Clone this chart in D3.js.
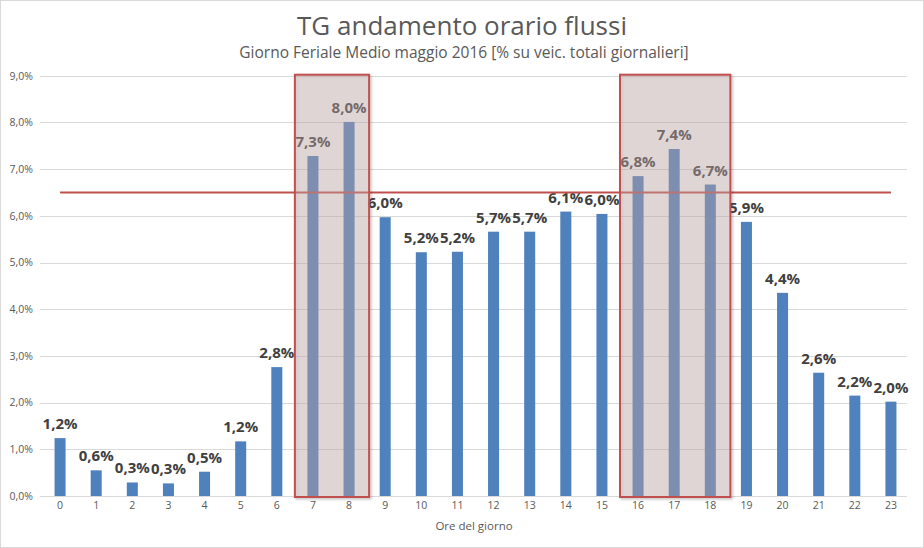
<!DOCTYPE html>
<html><head><meta charset="utf-8">
<script src="https://cdn.jsdelivr.net/npm/d3@7/dist/d3.min.js"></script>
<style>body{margin:0;background:#fff;}svg{display:block;font-family:"Open Sans",sans-serif;}</style>
</head><body>
<svg id="chart" width="924" height="548"></svg>
<script>
const hours = ["0","1","2","3","4","5","6","7","8","9","10","11","12","13","14","15","16","17","18","19","20","21","22","23"];
const values = [1.24,0.55,0.29,0.27,0.52,1.17,2.76,7.28,8.01,5.97,5.22,5.23,5.66,5.66,6.09,6.04,6.85,7.43,6.67,5.87,4.35,2.64,2.15,2.02];
const labels = ["1,2%","0,6%","0,3%","0,3%","0,5%","1,2%","2,8%","7,3%","8,0%","6,0%","5,2%","5,2%","5,7%","5,7%","6,1%","6,0%","6,8%","7,4%","6,7%","5,9%","4,4%","2,6%","2,2%","2,0%"];
const yTicks = [0,1,2,3,4,5,6,7,8,9];
const yTickLabels = ["0,0%","1,0%","2,0%","3,0%","4,0%","5,0%","6,0%","7,0%","8,0%","9,0%"];
const refValue = 6.5;
const highlights = [["7","8"],["16","18"]];
const title = "TG andamento orario flussi";
const subtitle = "Giorno Feriale Medio maggio 2016 [% su veic. totali giornalieri]";
const xTitle = "Ore del giorno";

(function(){
const svg = d3.select("#chart");
const W = 924, H = 548;
const mLeft = 42, mRight = 909, mTop = 75.7, mBottom = 496;

const defs = svg.append("defs");
const f = defs.append("filter").attr("id","sh").attr("x","-10%").attr("y","-10%").attr("width","130%").attr("height","130%");
f.append("feDropShadow").attr("dx",1.5).attr("dy",1.5).attr("stdDeviation",1.2).attr("flood-color","#000").attr("flood-opacity",0.25);

svg.append("rect").attr("x",0.5).attr("y",0.5).attr("width",W-1).attr("height",H-1)
  .attr("fill","#fff").attr("stroke","#d9d9d9");

const x = d3.scaleBand().domain(hours).range([mLeft,mRight]).paddingInner(0.695).paddingOuter(0.3475);
const y = d3.scaleLinear().domain([0,9]).range([mBottom,mTop]);

svg.append("g").selectAll("line").data(yTicks).join("line")
  .attr("x1",40).attr("x2",mRight-2)
  .attr("y1",d=>Math.round(y(d))+0.5).attr("y2",d=>Math.round(y(d))+0.5)
  .attr("stroke","#d9d9d9").attr("stroke-width",1);

const yAxis = d3.axisLeft(y).tickValues(yTicks).tickFormat((d,i)=>yTickLabels[i]).tickSize(0).tickPadding(0);
const gy = svg.append("g").attr("transform","translate(33,0)").call(yAxis);
gy.select(".domain").remove();
gy.selectAll("text").attr("font-family","Open Sans").attr("font-size",10.5).attr("fill","#595959");

const xAxis = d3.axisBottom(x).tickSize(0).tickPadding(0);
const gx = svg.append("g").attr("transform","translate(0,502)").call(xAxis);
gx.select(".domain").remove();
gx.selectAll("text").attr("font-family","Open Sans").attr("font-size",10.5).attr("fill","#595959");

svg.append("g").selectAll("rect").data(values).join("rect")
  .attr("x",(d,i)=>x(hours[i])).attr("width",x.bandwidth())
  .attr("y",d=>y(d)).attr("height",d=>y(0)-y(d)).attr("fill","#4f81bd");

svg.append("g").selectAll("text").data(values).join("text")
  .attr("x",(d,i)=>x(hours[i])+x.bandwidth()/2).attr("y",d=>y(d)-9)
  .attr("text-anchor","middle").attr("font-size",15).attr("font-weight","bold")
  .attr("fill","#404040").text((d,i)=>labels[i]);

svg.append("line")
  .attr("x1",x(hours[0])+x.bandwidth()/2).attr("x2",x(hours[hours.length-1])+x.bandwidth()/2)
  .attr("y1",y(refValue)).attr("y2",y(refValue))
  .attr("stroke","#c0504d").attr("stroke-width",2);

const hb = svg.append("g");
highlights.forEach(([a,b])=>{
  const x0 = x(a) - x.step()*x.paddingInner()/2;
  const x1 = x(b) + x.bandwidth() + x.step()*x.paddingInner()/2 + 2;
  hb.append("rect").attr("x",x0).attr("y",y(9)-1).attr("width",x1-x0).attr("height",y(0)-y(9)+2)
    .attr("fill","rgba(196,170,170,0.38)").attr("stroke","#c0504d").attr("stroke-width",2)
    .attr("filter","url(#sh)");
});

svg.append("text").attr("x",462).attr("y",35).attr("text-anchor","middle")
  .attr("font-size",26).attr("fill","#595959").text(title);
svg.append("text").attr("x",464).attr("y",58).attr("text-anchor","middle")
  .attr("font-size",15.5).attr("fill","#595959").text(subtitle);
svg.append("text").attr("x",474).attr("y",530).attr("text-anchor","middle")
  .attr("font-size",11.5).attr("fill","#595959").text(xTitle);
})();
</script>
</body></html>
